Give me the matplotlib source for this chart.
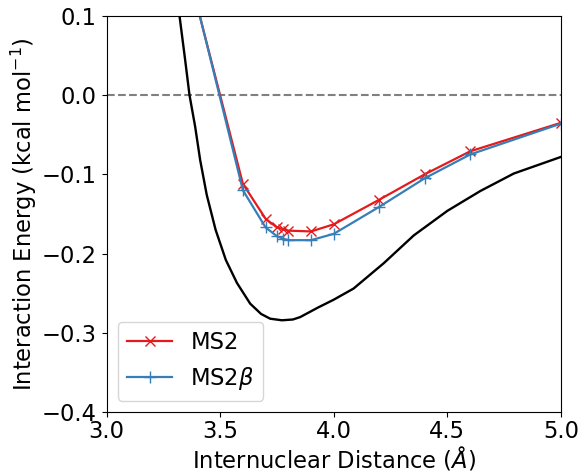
import matplotlib
matplotlib.use('Agg')
import matplotlib.pyplot as plt

# computed points (MS2 / MS2beta), first point sits above the visible range
r_fit = [3.4, 3.6, 3.7, 3.75, 3.775, 3.8, 3.9, 4.0, 4.2, 4.4, 4.6, 5.0]
e_ms2 = [0.111, -0.112, -0.156, -0.167, -0.169, -0.171, -0.172, -0.163,
         -0.132, -0.100, -0.071, -0.035]
e_ms2b = [0.112, -0.120, -0.167, -0.178, -0.181, -0.183, -0.183, -0.175,
          -0.141, -0.105, -0.075, -0.036]

# reference curve
r_ref = [3.31, 3.321, 3.346, 3.365, 3.39, 3.412, 3.441, 3.48, 3.525, 3.574,
         3.632, 3.68, 3.72, 3.772, 3.82, 3.852, 3.93, 4.0, 4.087, 4.22,
         4.352, 4.50, 4.645, 4.792, 5.0]
e_ref = [0.125, 0.100, 0.044, 0.0, -0.040, -0.082, -0.126, -0.170, -0.208,
         -0.237, -0.263, -0.276, -0.282, -0.284, -0.283, -0.280, -0.268,
         -0.258, -0.244, -0.212, -0.177, -0.146, -0.121, -0.099, -0.078]

plt.rcParams['font.size'] = 16.3

fig = plt.figure(figsize=(5.79, 4.75), dpi=100)
ax = fig.add_axes([0.184, 0.132, 0.785, 0.835])

ax.axhline(0.0, color='grey', linestyle='--', linewidth=1.5)
ax.plot(r_ref, e_ref, color='black', linewidth=1.7)
ax.plot(r_fit, e_ms2, color='#e41a1c', marker='x', markersize=7,
        linewidth=1.6, label='MS2')
ax.plot(r_fit, e_ms2b, color='#377eb8', marker='+', markersize=8,
        linewidth=1.6, label=r'MS2$\beta$')

ax.set_xlim(3.0, 5.0)
ax.set_ylim(-0.4, 0.1)
ax.set_xticks([3.0, 3.5, 4.0, 4.5, 5.0])
ax.set_yticks([-0.4, -0.3, -0.2, -0.1, 0.0, 0.1])
ax.tick_params(axis='x', pad=2)
ax.set_xlabel(r'Internuclear Distance ($Å$)', labelpad=1)
ax.set_ylabel(r'Interaction Energy (kcal mol$^{-1}$)', labelpad=2)
ax.legend(loc='lower left')

fig.savefig('out.png', dpi=100)
